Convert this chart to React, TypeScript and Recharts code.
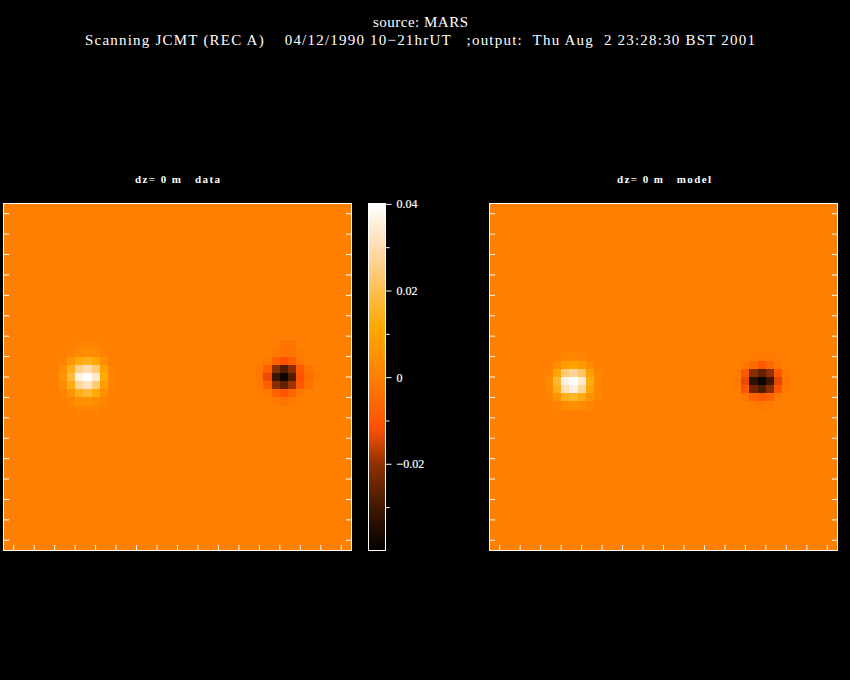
import { Bar, ComposedChart, ReferenceArea, Scatter, ScatterChart, XAxis, YAxis } from 'recharts';

// chart values, in units of 0.001, rows top to bottom, columns left to right
const dataPeak = [
  [0, 0, 0, 1, 1, 1, 0, 0, 0],
  [0, 0, 1, 3, 4, 3, 1, 0, 0],
  [0, 1, 6, 12, 14, 11, 4, 0, 0],
  [0, 4, 14, 26, 30, 24, 9, 1, 0],
  [0, 6, 18, 36, 40, 34, 12, 2, 0],
  [0, 3, 13, 28, 32, 24, 8, 1, 0],
  [0, 1, 6, 14, 17, 12, 4, 0, 0],
  [0, 0, 1, 4, 5, 3, 1, 0, 0],
  [0, 0, 0, 1, 1, 1, 0, 0, 0],
];
const dataDip = [
  [0, 0, 0, 0, -3, -3, 0, 0, 0],
  [0, 0, 0, -2, -3, -3, -1, 0, 0],
  [0, 0, -2, -7, -11, -8, -2, 0, 0],
  [0, -2, -8, -21, -28, -21, -9, -3, 0],
  [0, -2, -13, -31, -38, -28, -11, -4, -1],
  [0, -2, -8, -21, -26, -19, -9, -3, 0],
  [0, 0, -2, -7, -10, -7, -2, 0, 0],
  [0, 0, 0, -2, -3, -2, 0, 0, 0],
  [0, 0, 0, 0, 0, 0, 0, 0, 0],
];
const modelPeak = [
  [0, 0, 0, 0, 0, 0, 0, 0, 0],
  [0, 0, 0, 1, 2, 1, 0, 0, 0],
  [0, 0, 3, 8, 10, 8, 3, 0, 0],
  [0, 1, 11, 24, 27, 22, 9, 1, 0],
  [0, 3, 17, 36, 40, 34, 13, 2, 0],
  [0, 2, 14, 31, 36, 28, 11, 2, 0],
  [0, 1, 6, 14, 16, 13, 5, 1, 0],
  [0, 0, 1, 3, 4, 3, 1, 0, 0],
  [0, 0, 0, 0, 0, 0, 0, 0, 0],
];
const modelDip = [
  [0, 0, 0, 0, 0, 0, 0, 0, 0],
  [0, 0, 0, -1, -2, -2, -1, 0, 0],
  [0, 0, -2, -5, -10, -6, -2, 0, 0],
  [0, -1, -9, -21, -26, -20, -10, -2, 0],
  [0, -2, -13, -33, -38, -30, -14, -3, 0],
  [0, -1, -10, -24, -28, -21, -10, -2, 0],
  [0, 0, -2, -7, -9, -7, -2, 0, 0],
  [0, 0, 0, -1, -2, -1, 0, 0, 0],
  [0, 0, 0, 0, 0, 0, 0, 0, 0],
];

const xTicks = [-160, -140, -120, -100, -80, -60, -40, -20, 0, 20, 40, 60, 80, 100, 120, 140, 160];
const colorValues = [0.04, 0.03, 0.02, 0.0113, 0, -0.0115, -0.0145, -0.02, -0.03, -0.0385, -0.04];
const colorStops = ['#ffffff', '#ffdcb0', '#ffbe50', '#ffa800', '#ff8000', '#ff5000', '#d84800', '#903000', '#401800', '#0a0400', '#000000'];
const barTicks = [0.04, 0.03, 0.02, 0.01, 0, -0.01, -0.02, -0.03];
const barLabels: Record<string, string> = { '0.04': '0.04', '0.02': '0.02', '0': '0', '-0.02': '\u22120.02' };

const range = 170;
const cell = 8;
const barMax = 0.0402;
const barMin = -0.0399;

function colorOf(v: number) {
  for (let i = 1; i < colorValues.length; i++) {
    if (v >= colorValues[i]) {
      const t = (v - colorValues[i]) / (colorValues[i - 1] - colorValues[i]);
      const a = colorStops[i];
      const b = colorStops[i - 1];
      const ch = (p: number) => {
        const c0 = parseInt(a.slice(p, p + 2), 16);
        const c1 = parseInt(b.slice(p, p + 2), 16);
        return Math.round(c0 + (c1 - c0) * t);
      };
      return `rgb(${ch(1)},${ch(3)},${ch(5)})`;
    }
  }
  return '#000000';
}

function toCells(rows: number[][], xc: number, yc: number) {
  const out: { x: number; y: number; v: number }[] = [];
  rows.forEach((row, r) => {
    row.forEach((m, c) => {
      if (m !== 0) out.push({ x: xc + (c - 4) * cell, y: yc - (r - 4) * cell, v: m / 1000 });
    });
  });
  return out;
}

const W = 348;
const H = 347;
const pad = 2.5;
const barPad = 9.5;
const pxW = (cell * W) / (2 * range);
const pxH = (cell * H) / (2 * range);
const chartMargin = { top: pad, right: pad, bottom: pad, left: pad };

function Pixel(props: any) {
  const { cx, cy, payload } = props;
  return (
    <rect
      x={cx - pxW / 2}
      y={cy - pxH / 2}
      width={pxW}
      height={pxH}
      fill={colorOf(payload.v)}
      shapeRendering="crispEdges"
    />
  );
}

function NoLabel() {
  return <g />;
}

function BarTick(props: any) {
  const { x, y, payload } = props;
  const label = barLabels[String(payload.value)];
  return (
    <g>
      <line x1={x} x2={x + (label ? 6 : 4)} y1={y} y2={y} stroke="#fff" strokeWidth={1} />
      {label && (
        <text x={x + 11} y={y + 4} fill="#fff" stroke="#fff" strokeWidth={0.2} fontFamily="Liberation Serif" fontSize={12}>
          {label}
        </text>
      )}
    </g>
  );
}

const axisProps = {
  stroke: '#fff',
  strokeWidth: 1,
  strokeLinecap: 'square' as const,
  tick: NoLabel,
  tickLine: { stroke: '#fff', strokeWidth: 1 },
  tickSize: -5,
  type: 'number' as const,
  domain: [-range, range],
  ticks: xTicks,
  allowDataOverflow: true,
  interval: 0 as const,
};

function Panel({ cells, left }: { cells: { x: number; y: number; v: number }[]; left: number }) {
  return (
    <div style={{ position: 'absolute', left, top: 200 }}>
      <ScatterChart width={W + 2 * pad + 2} height={H + 2 * pad + 2} margin={chartMargin}>
        <ReferenceArea xAxisId="b" yAxisId="l" x1={-range} x2={range} y1={-range} y2={range} fill="#ff8000" fillOpacity={1} stroke="none" />
        <Scatter xAxisId="b" yAxisId="l" data={cells} shape={Pixel} isAnimationActive={false} />
        <XAxis {...axisProps} xAxisId="b" dataKey="x" orientation="bottom" height={1} />
        <XAxis {...axisProps} xAxisId="t" orientation="top" height={1} />
        <YAxis {...axisProps} yAxisId="l" dataKey="y" orientation="left" width={1} />
        <YAxis {...axisProps} yAxisId="r" orientation="right" width={1} />
      </ScatterChart>
    </div>
  );
}

const barRow = [{ name: 'scale', span: [barMin, barMax] }];

function ColorBar() {
  return (
    <div style={{ position: 'absolute', left: 365, top: 193 }}>
      <ComposedChart width={74} height={H + 2 * barPad + 2} data={barRow} margin={{ top: barPad, right: 52.5, bottom: barPad, left: pad }} barCategoryGap={0}>
        <defs>
          <linearGradient id="cbar" x1="0" y1="0" x2="0" y2="1">
            {colorValues.map((v, i) => (
              <stop key={v} offset={Math.min(1, Math.max(0, (barMax - v) / (barMax - barMin)))} stopColor={colorStops[i]} />
            ))}
          </linearGradient>
        </defs>
        <Bar xAxisId="b" yAxisId="l" dataKey="span" fill="url(#cbar)" isAnimationActive={false} />
        <XAxis xAxisId="b" dataKey="name" orientation="bottom" height={1} tick={false} tickLine={false} stroke="#fff" strokeWidth={1} strokeLinecap="square" />
        <XAxis xAxisId="t" dataKey="name" orientation="top" height={1} tick={false} tickLine={false} stroke="#fff" strokeWidth={1} strokeLinecap="square" />
        <YAxis yAxisId="l" orientation="left" width={1} type="number" domain={[barMin, barMax]} allowDataOverflow tick={false} tickLine={false} stroke="#fff" strokeWidth={1} strokeLinecap="square" />
        <YAxis
          yAxisId="r"
          orientation="right"
          width={1}
          type="number"
          domain={[barMin, barMax]}
          ticks={barTicks}
          interval={0}
          tick={BarTick}
          tickLine={false}
          tickSize={0}
          tickMargin={0}
          stroke="#fff"
          strokeWidth={1}
          strokeLinecap="square"
          allowDataOverflow
        />
      </ComposedChart>
    </div>
  );
}

const dataCells = [...toCells(dataPeak, -88, 0), ...toCells(dataDip, 104, 0)];
const modelCells = [...toCells(modelPeak, -88, -4), ...toCells(modelDip, 96, -4)];

const textStyle = { fontFamily: 'Liberation Serif', whiteSpace: 'pre' as const };

export default function App() {
  return (
    <div style={{ position: 'absolute', left: 0, top: 0, width: 850, height: 680, background: '#000', overflow: 'hidden' }}>
      <style>{'html,body{margin:0;background:#000}'}</style>
      <svg width={850} height={680} style={{ position: 'absolute', left: 0, top: 0 }}>
        <g fill="#fff" style={textStyle}>
          <text x={373} y={27} fontSize={15} textLength={95} lengthAdjust="spacing">source: MARS</text>
          <text x={85} y={45} fontSize={15} textLength={670} lengthAdjust="spacing" xmlSpace="preserve">
            {'Scanning JCMT (REC A)    04/12/1990 10\u221221hrUT   ;output:  Thu Aug  2 23:28:30 BST 2001'}
          </text>
          <text x={135} y={183} fontSize={11} fontWeight="bold" textLength={85} lengthAdjust="spacing" xmlSpace="preserve">{'dz= 0 m   data'}</text>
          <text x={617} y={183} fontSize={11} fontWeight="bold" textLength={94} lengthAdjust="spacing" xmlSpace="preserve">{'dz= 0 m   model'}</text>
        </g>
      </svg>
      <Panel cells={dataCells} left={0} />
      <ColorBar />
      <Panel cells={modelCells} left={486} />
    </div>
  );
}
